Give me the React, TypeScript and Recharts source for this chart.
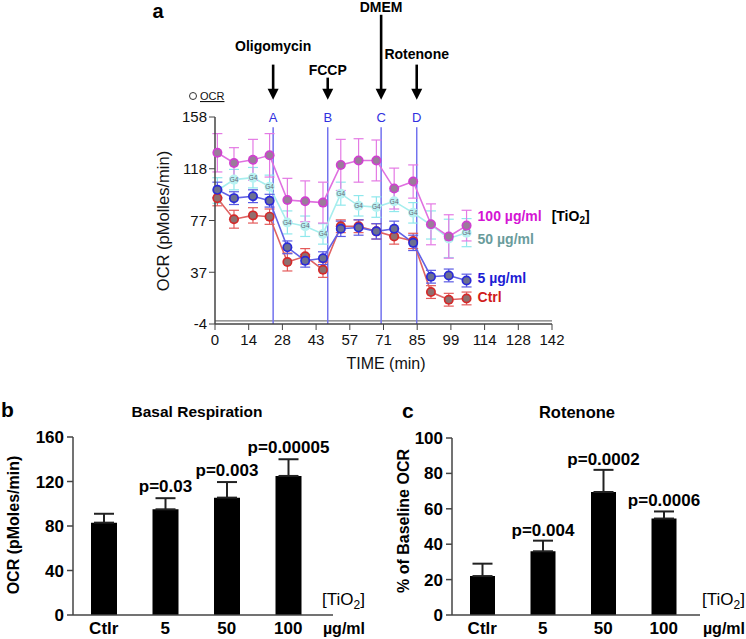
import React from 'react';
import { LineChart, Line, XAxis, YAxis, ErrorBar, ReferenceLine, BarChart, Bar, LabelList } from 'recharts';

const FONT = '"Liberation Sans", Arial, Helvetica, sans-serif';

// ---------- Panel a data ----------
const timeMin = [1, 8, 16, 23, 30.5, 38, 45.5, 53, 60.5, 68, 75.5, 83.5, 91, 98.5, 106];
const ocr100 = [130, 122, 124.5, 128, 93, 92, 91, 120.5, 124, 124, 102, 107.5, 74, 64.5, 73];
const err100 = [15, 12, 16, 17, 17, 16, 16, 20, 17, 16, 16, 13, 16, 17, 12];
const ocr50 = [100.5, 109, 110.5, 103.5, 75.5, 72.5, 66.5, 98, 88.5, 87.5, 92, 83, 73.5, 63, 67.5];
const err50 = [10, 8, 8, 9, 9, 8, 8, 9, 8, 8, 8, 8, 11, 15, 11];
const ocr5 = [101, 94.5, 96, 92.5, 56, 45.5, 47.5, 70.5, 71.5, 68.5, 70.5, 59.5, 33, 34, 30];
const err5 = [6, 5, 5, 5, 5, 5, 5, 6, 6, 6, 6, 6, 5, 5, 5];
const ocrCtrl = [94.5, 78, 81, 80, 44.5, 49, 38.5, 72.5, 72.5, 68.5, 64.5, 61, 21, 15, 16];
const errCtrl = [6, 7, 6, 6, 7, 6, 6, 5, 5, 6, 6, 6, 5, 5, 5];

const timeTicks = [0, 14.2, 28.4, 42.6, 56.8, 71, 85.2, 99.4, 113.6, 127.8, 142];
const ocrTicks = [-4, 36.5, 77, 117.5, 158];

const portLetters = ['A', 'B', 'C', 'D'];
const portTimes = [24.5, 47.5, 70, 85];
const portDrugs = ['Oligomycin', 'FCCP', 'DMEM', 'Rotenone'];

const seriesNames = ['100 µg/ml', '50 µg/ml', '5 µg/ml', 'Ctrl'];

// ---------- Panel b / c data ----------
const groups = ['Ctlr', '5', '50', '100'];
const basal = [83, 95, 105.5, 125];
const basalErr = [8, 10, 14, 15];
const basalP = ['', 'p=0.03', 'p=0.003', 'p=0.00005'];
const rotenone = [22, 36, 69.5, 54.5];
const rotenoneErr = [7, 6, 12.5, 4];
const rotenoneP = ['', 'p=0.004', 'p=0.0002', 'p=0.0006'];

// ---------- layout (not data) ----------
const arrowTopVal = [199, 188.8, 238, 199];
const arrowBottomVal = 171.5;
const arrowLabelGap = [14, 3, 3, 6];

const rowsA = timeMin.map((t, i) => ({
  t,
  c100: ocr100[i], e100: err100[i],
  c50: ocr50[i], e50: err50[i],
  c5: ocr5[i], e5: err5[i],
  cc: ocrCtrl[i], ec: errCtrl[i],
}));

const rowsB = groups.map((g, i) => ({ g, v: basal[i], e: [0, basalErr[i]], p: basalP[i] }));
const rowsC = groups.map((g, i) => ({ g, v: rotenone[i], e: [0, rotenoneErr[i]], p: rotenoneP[i] }));

const makeDot = (ring: string, inner: string, prefix: string) => (p: any) => {
  if (p.cx == null || p.cy == null) return <g key={`${prefix}-${p.index}`} />;
  return (
    <g key={`${prefix}-${p.index}`}>
      <circle cx={p.cx} cy={p.cy} r={5} fill={ring} />
      <circle cx={p.cx} cy={p.cy} r={3.3} fill={inner} />
    </g>
  );
};

const g4Dot = (p: any) => {
  if (p.cx == null || p.cy == null) return <g key={`g4-${p.index}`} />;
  return (
    <g key={`g4-${p.index}`}>
      <circle cx={p.cx} cy={p.cy} r={5} fill="#b8f2f2" />
      <text x={p.cx} y={p.cy + 2.2} textAnchor="middle" fontSize={6.5} fill="#667" fontFamily={FONT}>G4</text>
    </g>
  );
};

const endLabel = (name: string, color: string, dy: number, extra?: boolean) => (p: any) => {
  if (p.index !== timeMin.length - 1) return null;
  return (
    <text x={p.x + 11} y={p.y + dy} fill={color} fontSize={14} fontWeight="bold" fontFamily={FONT}>
      {name}
      {extra ? (
        <tspan fill="#000" dx={10}>[TiO<tspan fontSize={10} dy={3}>2</tspan><tspan dy={-3}>]</tspan></tspan>
      ) : null}
    </text>
  );
};

const arrowShape = (label: string, gap: number) => (p: any) => {
  const x = p.x1;
  const top = Math.min(p.y1, p.y2);
  const bot = Math.max(p.y1, p.y2);
  return (
    <g>
      <line x1={x} y1={top} x2={x} y2={bot - 8} stroke="#000" strokeWidth={2.6} />
      <polygon points={`${x - 5.5},${bot - 11} ${x + 5.5},${bot - 11} ${x},${bot}`} fill="#000" />
      <text x={x} y={top - gap} textAnchor="middle" fontSize={14} fontWeight="bold" fontFamily={FONT} fill="#000">{label}</text>
    </g>
  );
};

const pLabel = (vals: number[], errs: number[], lift: number, size: number) => (p: any) => {
  const { index, value } = p;
  if (!value) return null;
  const vb = p.viewBox && p.viewBox.width != null ? p.viewBox : p;
  const x = vb.x, y = vb.y, w = vb.width, h = Math.abs(vb.height);
  const pxPer = h / vals[index];
  const errTop = y - errs[index] * pxPer;
  return (
    <text x={x + w / 2} y={errTop - lift} textAnchor="middle" fontSize={size} fontWeight="bold" fontFamily={FONT} fill="#000">{value}</text>
  );
};

const boldTick = { fontSize: 17, fontWeight: 'bold', fill: '#000', fontFamily: FONT };
const axisLine = { stroke: '#444', strokeWidth: 1.5 };

export default function App() {
  return (
    <div style={{ position: 'absolute', left: 0, top: 0, width: 746, height: 639, background: '#fff', fontFamily: FONT }}>
      <div style={{ position: 'absolute', left: 0, top: 0 }}>
        <LineChart width={746} height={380} data={rowsA} margin={{ top: 117, right: 194, bottom: 0, left: 175 }}>
          <XAxis
            dataKey="t"
            type="number"
            domain={[0, 142]}
            ticks={timeTicks}
            tickFormatter={(v: number) => String(Math.round(v))}
            interval={0}
            height={56}
            tickSize={6}
            tickMargin={4}
            axisLine={axisLine}
            tickLine={{ stroke: '#444' }}
            tick={{ fontSize: 15, fill: '#111', fontFamily: FONT }}
          />
          <YAxis
            type="number"
            domain={[-4, 158]}
            ticks={ocrTicks}
            tickFormatter={(v: number) => String(Math.round(v))}
            interval={0}
            width={40}
            tickSize={6}
            tickMargin={2}
            axisLine={axisLine}
            tickLine={{ stroke: '#444' }}
            tick={{ fontSize: 15, fill: '#111', fontFamily: FONT }}
          />
          <ReferenceLine y={-1.6} stroke="#777" strokeWidth={1.2} />
          {portTimes.map((t, i) => (
            <ReferenceLine
              key={`port-${i}`}
              segment={[{ x: t, y: 150 }, { x: t, y: -4 }]}
              stroke="#7272ee"
              strokeWidth={1.5}
              ifOverflow="visible"
              label={{ value: portLetters[i], position: 'top', fill: '#3030e0', fontSize: 13, fontFamily: FONT }}
            />
          ))}
          {portTimes.map((t, i) => (
            <ReferenceLine
              key={`arrow-${i}`}
              segment={[{ x: t, y: arrowTopVal[i] }, { x: t, y: arrowBottomVal }]}
              ifOverflow="visible"
              shape={arrowShape(portDrugs[i], arrowLabelGap[i])}
            />
          ))}
          <Line dataKey="c50" stroke="#a6eeee" strokeWidth={1.6} dot={g4Dot} activeDot={false} isAnimationActive={false}>
            <ErrorBar dataKey="e50" width={5} stroke="#8fe8ec" strokeWidth={1.2} direction="y" />
            <LabelList dataKey="c50" content={endLabel(seriesNames[1], '#6a9c9c', 11)} />
          </Line>
          <Line dataKey="cc" stroke="#e06262" strokeWidth={1.6} dot={makeDot('#d42a2a', '#8f6f6f', 'dc')} activeDot={false} isAnimationActive={false}>
            <ErrorBar dataKey="ec" width={5} stroke="#e45a5a" strokeWidth={1.2} direction="y" />
            <LabelList dataKey="cc" content={endLabel(seriesNames[3], '#d01c1c', 4)} />
          </Line>
          <Line dataKey="c5" stroke="#6262e6" strokeWidth={1.6} dot={makeDot('#2a2ad8', '#6c7090', 'd5')} activeDot={false} isAnimationActive={false}>
            <ErrorBar dataKey="e5" width={5} stroke="#5a5ae4" strokeWidth={1.2} direction="y" />
            <LabelList dataKey="c5" content={endLabel(seriesNames[2], '#1c1cd4', 2)} />
          </Line>
          <Line dataKey="c100" stroke="#e070e0" strokeWidth={1.6} dot={makeDot('#d040d0', '#9a7c9a', 'd100')} activeDot={false} isAnimationActive={false}>
            <ErrorBar dataKey="e100" width={5} stroke="#e47ae4" strokeWidth={1.2} direction="y" />
            <LabelList dataKey="c100" content={endLabel(seriesNames[0], '#d414d4', -5, true)} />
          </Line>
        </LineChart>
      </div>

      <div style={{ position: 'absolute', left: 0, top: 380 }}>
        <BarChart width={370} height={259} data={rowsB} margin={{ top: 57, right: 37, bottom: 0, left: 33 }}>
          <XAxis dataKey="g" height={24} padding={{ left: 0, right: 14 }} tickLine={false} tickSize={6} tickMargin={1} axisLine={axisLine} tick={boldTick} interval={0} />
          <YAxis domain={[0, 160]} ticks={[0, 40, 80, 120, 160]} width={40} tickSize={6} tickMargin={3} axisLine={axisLine} tickLine={{ stroke: '#444', strokeWidth: 1.5 }} tick={boldTick} interval={0} />
          <Bar dataKey="v" fill="#000" barSize={26} isAnimationActive={false}>
            <ErrorBar dataKey="e" width={10} stroke="#222" strokeWidth={2} direction="y" />
            <LabelList dataKey="p" content={pLabel(basal, basalErr, 6, 17)} />
          </Bar>
        </BarChart>
      </div>

      <div style={{ position: 'absolute', left: 370, top: 380 }}>
        <BarChart width={376} height={259} data={rowsC} margin={{ top: 58, right: 46, bottom: 0, left: 42 }}>
          <XAxis dataKey="g" height={24} padding={{ left: 0, right: 6 }} tickLine={false} tickSize={6} tickMargin={1} axisLine={axisLine} tick={boldTick} interval={0} />
          <YAxis domain={[0, 100]} ticks={[0, 20, 40, 60, 80, 100]} width={40} tickSize={6} tickMargin={3} axisLine={axisLine} tickLine={{ stroke: '#444', strokeWidth: 1.5 }} tick={boldTick} interval={0} />
          <Bar dataKey="v" fill="#000" barSize={25} isAnimationActive={false}>
            <ErrorBar dataKey="e" width={10} stroke="#222" strokeWidth={2} direction="y" />
            <LabelList dataKey="p" content={pLabel(rotenone, rotenoneErr, 5, 17)} />
          </Bar>
        </BarChart>
      </div>

      <svg width={746} height={639} style={{ position: 'absolute', left: 0, top: 0, pointerEvents: 'none' }} fontFamily={FONT}>
        <text x={158} y={18} textAnchor="middle" fontSize={20} fontWeight="bold">a</text>
        <circle cx={193} cy={96} r={3.5} fill="none" stroke="#333" strokeWidth={1} />
        <text x={200} y={100} fontSize={11} textDecoration="underline" fill="#111">OCR</text>
        <text transform="translate(169,221) rotate(-90)" textAnchor="middle" fontSize={16.5} fill="#111">OCR (pMolles/min)</text>
        <text x={386} y={369} textAnchor="middle" fontSize={16} fill="#111">TIME (min)</text>

        <text x={1} y={417} fontSize={21} fontWeight="bold">b</text>
        <text x={197} y={417} textAnchor="middle" fontSize={15.5} fontWeight="bold">Basal Respiration</text>
        <text transform="translate(19,525) rotate(-90)" textAnchor="middle" fontSize={16} fontWeight="bold">OCR (pMoles/min)</text>
        <text x={365} y={605} textAnchor="end" fontSize={17}>[TiO<tspan fontSize={12} dy={4}>2</tspan><tspan dy={-4}>]</tspan></text>
        <text x={365} y={634} textAnchor="end" fontSize={16} fontWeight="bold">µg/ml</text>

        <text x={402} y={418} fontSize={21} fontWeight="bold">c</text>
        <text x={577} y={418} textAnchor="middle" fontSize={16.5} fontWeight="bold">Rotenone</text>
        <text transform="translate(409,521) rotate(-90)" textAnchor="middle" fontSize={16} fontWeight="bold">% of Baseline OCR</text>
        <text x={745} y={605} textAnchor="end" fontSize={17}>[TiO<tspan fontSize={12} dy={4}>2</tspan><tspan dy={-4}>]</tspan></text>
        <text x={745} y={634} textAnchor="end" fontSize={16} fontWeight="bold">µg/ml</text>
      </svg>
    </div>
  );
}
